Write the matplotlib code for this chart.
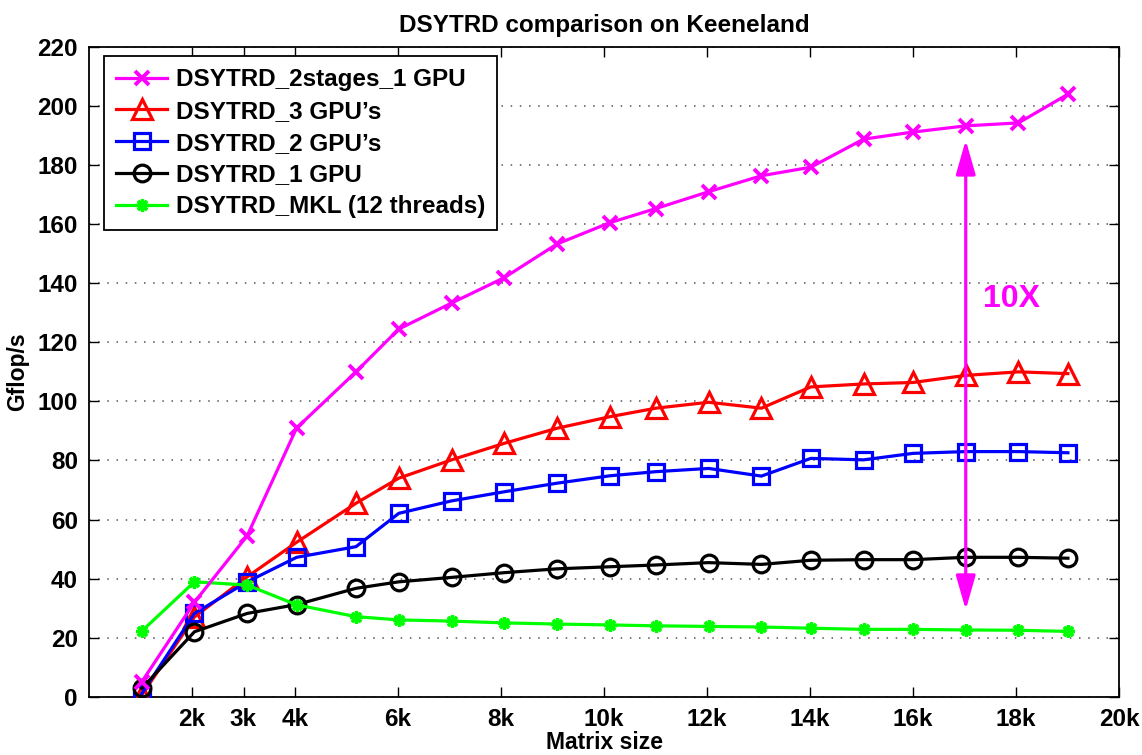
import matplotlib
matplotlib.use("Agg")
import matplotlib.pyplot as plt

plt.rcParams['font.family'] = ['Liberation Sans', 'DejaVu Sans']
plt.rcParams['font.weight'] = 'bold'

sizes = [1024, 2048, 3072, 4032, 5184, 6016, 7040, 8064, 9088, 10112,
         11008, 12032, 13056, 14016, 15040, 16000, 17024, 18048, 19008]

two_stage_1gpu = [5, 32, 54.5, 91, 110, 124.5, 133.3, 141.9, 153.3, 160.5,
                  165.3, 171.0, 176.4, 179.3, 188.8, 191.2, 193.3, 194.3, 204.0]
gpu3 = [0.5, 27, 40.6, 52.3, 65.5, 74.0, 80.2, 85.8, 90.9, 94.8,
        97.7, 99.7, 97.7, 104.9, 105.9, 106.4, 108.8, 110.0, 109.4]
gpu2 = [1, 28.2, 38.9, 47.2, 50.8, 62.1, 66.3, 69.4, 72.3, 74.8,
        76.2, 77.3, 74.7, 80.7, 80.2, 82.4, 83.0, 83.0, 82.6]
gpu1 = [2.8, 22.0, 28.2, 31.2, 36.7, 38.9, 40.4, 42.0, 43.3, 44.0,
        44.6, 45.4, 44.8, 46.2, 46.4, 46.4, 47.2, 47.2, 46.9]
mkl = [22.2, 38.9, 37.8, 31.1, 27.1, 26.0, 25.6, 25.0, 24.6, 24.3,
       24.0, 23.8, 23.6, 23.2, 22.8, 22.8, 22.6, 22.5, 22.1]

labels = ["DSYTRD_2stages_1 GPU", "DSYTRD_3 GPU\u2019s", "DSYTRD_2 GPU\u2019s",
          "DSYTRD_1 GPU", "DSYTRD_MKL (12 threads)"]

xticks = [2000, 3000, 4000, 6000, 8000, 10000, 12000, 14000, 16000, 18000, 20000]
xticklabels = ["2k", "3k", "4k", "6k", "8k", "10k", "12k", "14k", "16k", "18k", "20k"]
yticks = list(range(0, 221, 20))

arrow_x = 17024
arrow_top = 188.5
arrow_bottom = 29.4
annot_text = "10X"
annot_x, annot_y = 17350, 132

fig = plt.figure(figsize=(11.42, 7.55), dpi=100)
ax = fig.add_axes([89 / 1142, 1 - 696.7 / 755, 1030 / 1142, 649.7 / 755])

lw = 2.3
ax.plot(sizes, two_stage_1gpu, color='#ff00ff', lw=lw, marker='x', ms=10, mew=2.8,
        label=labels[0], zorder=5)
ax.plot(sizes, gpu3, color='#ff0000', lw=lw, marker='^', ms=14, mew=2.3, mfc='none',
        label=labels[1], zorder=4)
ax.plot(sizes, gpu2, color='#0000ff', lw=lw, marker='s', ms=11, mew=2.3, mfc='none',
        label=labels[2], zorder=4)
ax.plot(sizes, gpu1, color='#000000', lw=lw, marker='o', ms=12, mew=2.3, mfc='none',
        label=labels[3], zorder=4)
ax.plot(sizes, mkl, color='#00ff00', lw=lw, marker=(8, 2, 0), ms=9, mew=2.4,
        label=labels[4], zorder=4)

ax.annotate("", xy=(arrow_x, arrow_top), xytext=(arrow_x, arrow_bottom),
            arrowprops=dict(arrowstyle='<|-|>,head_length=0.7,head_width=0.2',
                            color='#ff00ff', lw=2.3,
                            mutation_scale=30, shrinkA=0, shrinkB=0), zorder=6)
ax.text(annot_x, annot_y, annot_text, color='#ff00ff', fontsize=23,
        fontweight='bold', ha='left', va='baseline')

ax.set_xlim(0, 20000)
ax.set_ylim(0, 220)
ax.set_xticks(xticks)
ax.set_xticklabels(xticklabels)
ax.set_yticks(yticks)
ax.tick_params(direction='in', length=7, width=1, top=True, right=True,
               labelsize=17.5, pad=8)
for lab in ax.get_xticklabels() + ax.get_yticklabels():
    lab.set_fontweight('bold')
ax.yaxis.grid(True, linestyle=(0, (1, 5)), color='#555555', lw=1.1)
ax.set_axisbelow(True)
for s in ax.spines.values():
    s.set_linewidth(1.3)

ax.set_xlabel("Matrix size", fontsize=16.5, fontweight='bold', labelpad=0)
ax.set_ylabel("Gflop/s", fontsize=16.5, fontweight='bold', labelpad=6)
ax.set_title("DSYTRD comparison on Keeneland", fontsize=17.5, fontweight='bold', pad=11)

leg = ax.legend(loc='upper left', bbox_to_anchor=(15 / 1030, (696.7 - 56) / 649.7),
                borderaxespad=0, handlelength=2.1, labelspacing=0.36,
                handletextpad=0.35, borderpad=0.5, fancybox=False, framealpha=1,
                edgecolor='black', prop={'weight': 'bold', 'size': 17.5})
leg.get_frame().set_linewidth(1.3)

fig.savefig("out.png", dpi=100)
